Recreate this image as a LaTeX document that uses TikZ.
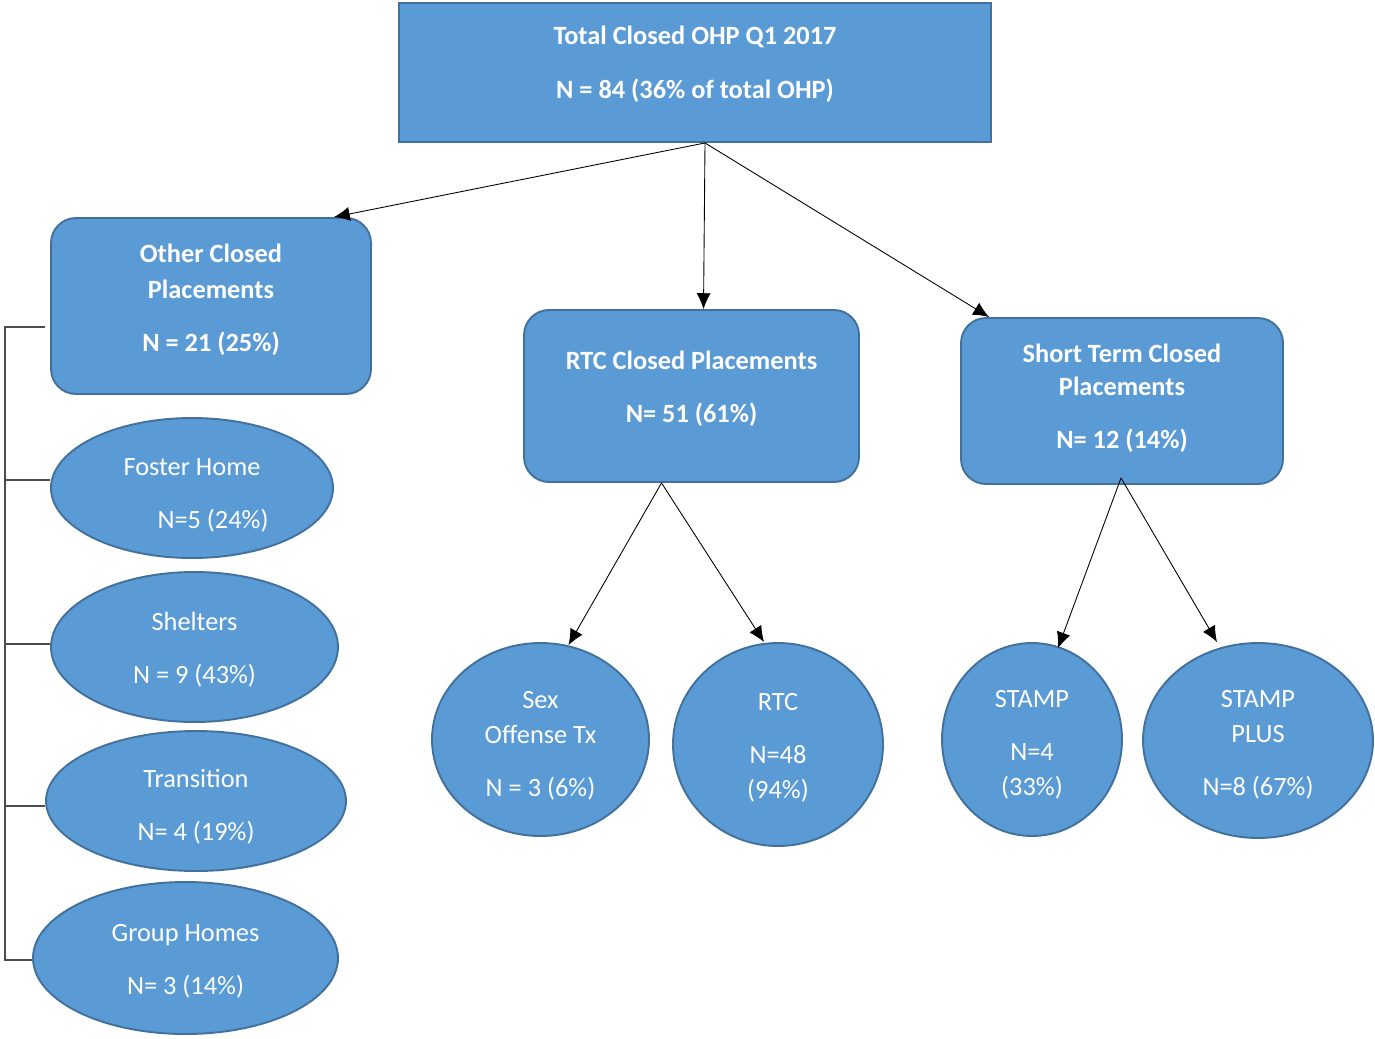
\documentclass[tikz,border=0pt]{standalone}
\usepackage{fontspec}
\setmainfont{Carlito}
\usetikzlibrary{shapes,arrows,arrows.meta}
\usetikzlibrary{calc,positioning}
\definecolor{boxblue}{HTML}{5B9BD5}
\definecolor{boxline}{HTML}{41719C}
% lift the text block inside its node, keeping the node size
\newcommand{\lift}[2]{\raisebox{#1}[\height][\depth]{\begin{tabular}{@{}c@{}}#2\end{tabular}}}

\begin{document}
\begin{tikzpicture}[x=0.02cm,y=-0.02cm,
	box/.style={draw=boxline, fill=boxblue, line width=1.1pt, text=white, inner sep=0pt, font=\fontsize{15}{20}\selectfont\bfseries},
	rbox/.style={box, rounded corners=0.5cm},
	oval/.style={ellipse, draw=boxline, fill=boxblue, line width=1.1pt, text=white, inner sep=0pt, font=\fontsize{15}{20}\selectfont},
	link/.style={->, >={Latex[length=9pt,width=8pt]}, line width=0.5pt, black},
	rail/.style={black!70, line width=0.6pt}]

		\useasboundingbox (0,0) rectangle (1375,1038);

		% top of the tree
		\node[box, minimum width=11.84cm, minimum height=2.78cm] (total) at (695,72.5) {\lift{0.16cm}{Total Closed OHP Q1 2017\\[0.36cm] N = 84 (36\% of total OHP)}};

		% second level
		\node[rbox, minimum width=6.4cm, minimum height=3.52cm] (other) at (211,306) {\lift{0.12cm}{Other Closed\\ Placements\\[0.36cm] N = 21 (25\%)}};
		\node[rbox, minimum width=6.7cm, minimum height=3.44cm] (rtc) at (691.5,396) {\lift{0.14cm}{RTC Closed Placements\\[0.36cm] N= 51 (61\%)}};
		\node[rbox, minimum width=6.44cm, minimum height=3.32cm] (short) at (1122,401) {\lift{0.05cm}{Short Term Closed\\[-0.04cm] Placements\\[0.36cm] N= 12 (14\%)}};

		\draw[link] ($(total.south)+(10,0)$) -- ($(other.north east)+(-38,0)$);
		\draw[link] ($(total.south)+(10,0)$) -- ($(rtc.north)+(12,0)$);
		\draw[link] ($(total.south)+(10,0)$) -- ($(short.north west)+(29,0)$);

		% other placements
		\node[oval, minimum width=5.64cm, minimum height=2.8cm] (foster) at (192,488) {\lift{-0.14cm}{Foster Home\\[0.36cm] \hspace*{0.84cm}N=5 (24\%)}};
		\node[oval, minimum width=5.74cm, minimum height=3.0cm] (shelter) at (194.5,647) {\lift{-0.06cm}{Shelters\\[0.36cm] N = 9 (43\%)}};
		\node[oval, minimum width=6.0cm, minimum height=2.8cm] (trans) at (196,801) {\lift{-0.12cm}{Transition\\[0.36cm] N= 4 (19\%)}};
		\node[oval, minimum width=6.1cm, minimum height=3.04cm] (group) at (185.5,958) {\lift{-0.06cm}{Group Homes\\[0.36cm] N= 3 (14\%)}};

		\coordinate (rail) at (5,327);
		\coordinate (ft) at ($(foster.west)+(0,-8)$);
		\coordinate (st) at ($(shelter.west)+(0,-3)$);
		\coordinate (tt) at ($(trans.west)+(0,5)$);
		\draw[rail] ($(other.west)+(-5,21)$) -- (rail) |- ($(group.west)+(0,2)$);
		\draw[rail] (ft) -- (ft -| rail);
		\draw[rail] (st) -- (st -| rail);
		\draw[rail] (tt) -- (tt -| rail);

		% rtc placements
		\node[oval, minimum width=4.34cm, minimum height=3.86cm] (sex) at (540.5,739.5) {\lift{-0.12cm}{Sex\\ Offense Tx\\[0.36cm] N = 3 (6\%)}};
		\node[oval, minimum width=4.2cm, minimum height=4.06cm] (rtcc) at (778,744.5) {\lift{-0.06cm}{RTC\\[0.36cm] N=48\\ (94\%)}};

		\draw[link] ($(rtc.south)+(-30,0)$) -- ($(sex.north)+(28,3)$);
		\draw[link] ($(rtc.south)+(-30,0)$) -- ($(rtcc.north)+(-14,0)$);

		% short term placements
		\node[oval, minimum width=3.6cm, minimum height=3.86cm] (stamp) at (1032,739.5) {\lift{-0.1cm}{STAMP\\[0.36cm] N=4\\ (33\%)}};
		\node[oval, minimum width=4.6cm, minimum height=3.9cm] (plus) at (1258,740.5) {\lift{-0.08cm}{STAMP\\ PLUS\\[0.36cm] N=8 (67\%)}};

		\draw[link] ($(short.south)+(-1,-7)$) -- ($(stamp.north)+(26,6)$);
		\draw[link] ($(short.south)+(-1,-7)$) -- ($(plus.north)+(-41,0)$);

\end{tikzpicture}
\end{document}
